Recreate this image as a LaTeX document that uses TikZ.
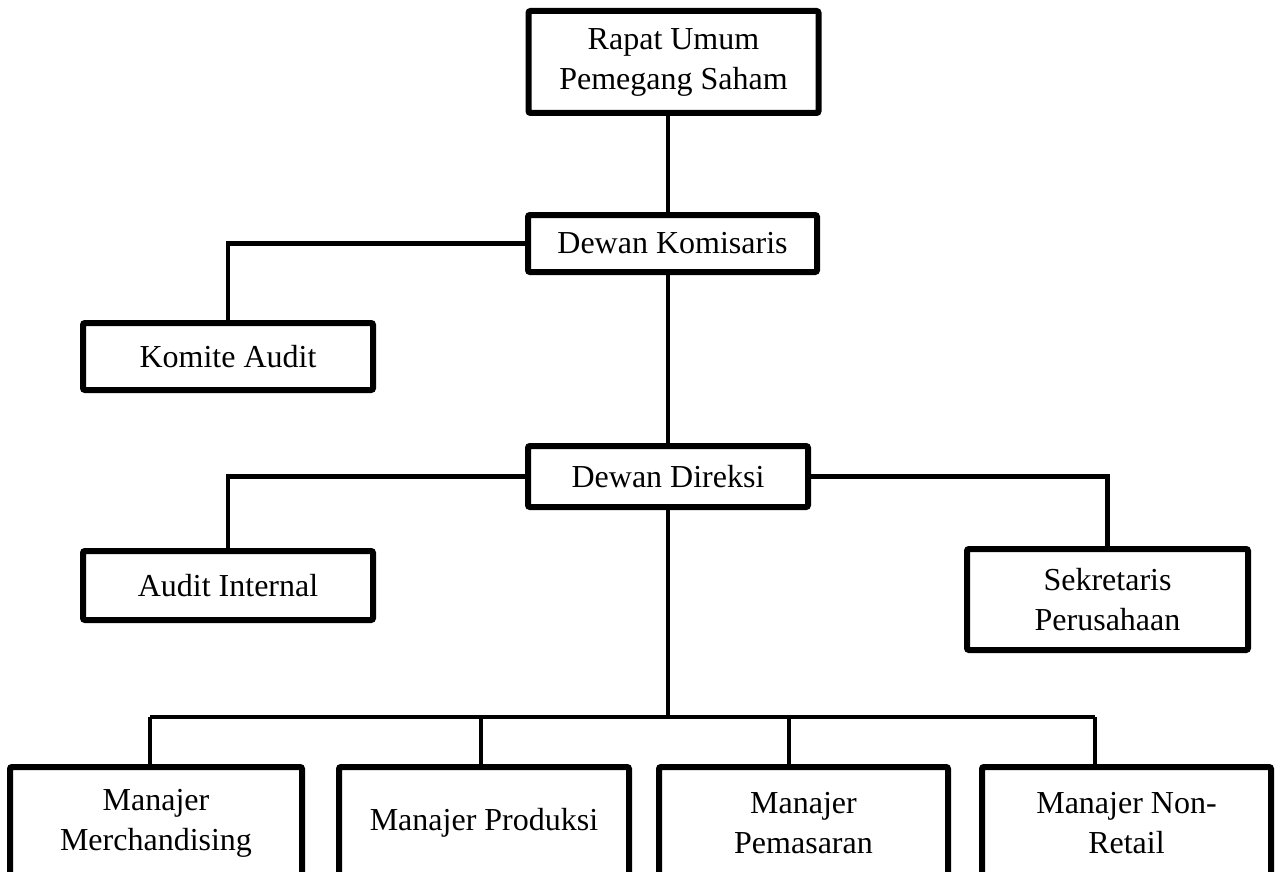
\documentclass[tikz,border=0pt]{standalone}
\usepackage{fontspec}
\setmainfont{Liberation Serif}
\usetikzlibrary{positioning,
    calc}

\begin{document}
\begin{tikzpicture} [x = 0.5pt, y = -0.5pt,
    font = \fontsize{16}{20}\selectfont,
    every node/.style = {align = center, inner sep = 0pt},
    orgbox/.style = {draw, line width = 3pt, rounded corners = 1pt},
    orgline/.style = {line width = 2.4pt}]
\useasboundingbox (0,0) rectangle (1280,872);

\node[orgbox, minimum width = 145pt, minimum height = 51pt] (rups) at (673.5,62) {Rapat Umum\\Pemegang Saham};
\node[orgbox, minimum width = 144.5pt, minimum height = 28.5pt] (dk) at (672.5,243.5) {Dewan Komisaris};
\node[orgbox, minimum width = 145pt, minimum height = 33.5pt] (ka) at (228,356.5) {Komite Audit};
\node[orgbox, minimum width = 140pt, minimum height = 30.5pt] (dd) at (668,476.5) {Dewan Direksi};
\node[orgbox, minimum width = 145pt, minimum height = 34.5pt] (ai) at (228,585.5) {Audit Internal};
\node[orgbox, minimum width = 140.5pt, minimum height = 50.5pt] (sp) at (1107.5,599.5) {Sekretaris\\Perusahaan};

\node[orgbox, minimum width = 146pt, minimum height = 56.5pt] (mm) at (156,823.5) {Manajer\\Merchandising};
\node[orgbox, minimum width = 145pt, minimum height = 56.5pt] (mp) at (484,823.5) {\raisebox{4pt}{Manajer Produksi}};
\node[orgbox, minimum width = 144.5pt, minimum height = 56.5pt] (mpm) at (803.5,823.5) {Manajer\\Pemasaran};
\node[orgbox, minimum width = 144.5pt, minimum height = 56.5pt] (mnr) at (1126.5,823.5) {Manajer Non-\\Retail};

\coordinate (bus) at (668,717);
\coordinate (bus1) at (150,717);
\coordinate (bus2) at (481,717);
\coordinate (bus3) at (789,717);
\coordinate (bus4) at (1095,717);

\draw[orgline] (rups.south -| dd) -- (dk.north -| dd);
\draw[orgline] (dk.west) -| (ka.north);
\draw[orgline] (dk.south -| dd) -- (dd.north);
\draw[orgline] (dd.west) -| (ai.north);
\draw[orgline] (dd.east) -| (sp.north);
\draw[orgline] (dd.south) -- (bus);
\draw[orgline] (bus1) -- (bus4);
\foreach \b/\m in {bus1/mm, bus2/mp, bus3/mpm, bus4/mnr}
    \draw[orgline] (\b) -- (\b |- \m.north);
\end{tikzpicture}
\end{document}
